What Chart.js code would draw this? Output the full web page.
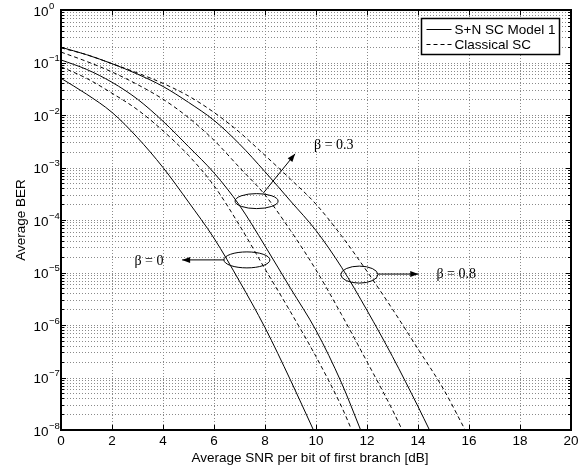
<!DOCTYPE html>
<html>
<head>
<meta charset="utf-8">
<script src="https://cdn.jsdelivr.net/npm/chart.js@4"></script>
<style>
  html, body { margin: 0; padding: 0; background: #fff; }
  canvas { display: block; }
</style>
</head>
<body>
<canvas id="chart" width="585" height="469"></canvas>
<script>
/* ---------- data ---------- */
// S+N SC Model 1 (solid) and Classical SC (dashed), beta = 0 / 0.3 / 0.8
const snrS0 = [0, 1, 2, 3, 4, 5, 6, 7, 8, 9, 9.9];
const berS0 = [5.0e-2, 2.5e-2, 1.12e-2, 3.7e-3, 1.0e-3, 2.2e-4, 4.5e-5, 6.8e-6, 8.9e-7, 8.9e-8, 1e-8];

const snrD0 = [0, 1, 2, 3, 4, 5, 6, 7, 8, 9, 10, 11, 11.4];
const berD0 = [8.3e-2, 5.0e-2, 2.6e-2, 1.26e-2, 5.0e-3, 1.7e-3, 4.5e-4, 7.9e-5, 1.17e-5, 1.78e-6, 2.5e-7, 2.8e-8, 1e-8];

const snrS3 = [0, 1, 2, 3, 4, 5, 6, 7, 8, 9, 10, 11, 11.75];
const berS3 = [1.12e-1, 7.4e-2, 4.2e-2, 2.0e-2, 7.6e-3, 2.5e-3, 7.9e-4, 1.9e-4, 3.2e-5, 5.0e-6, 7.9e-7, 7.9e-8, 1e-8];

const snrD3 = [0, 1, 2, 3, 4, 5, 6, 7, 8, 9, 10, 11, 12, 13, 13.38];
const berD3 = [1.58e-1, 1.05e-1, 6.6e-2, 3.8e-2, 2.0e-2, 8.9e-3, 3.3e-3, 1.0e-3, 3.0e-4, 6.3e-5, 1.12e-5, 1.58e-6, 2.0e-7, 2.4e-8, 1e-8];

const snrS8 = [0, 1, 2, 3, 4, 5, 6, 7, 8, 9, 10, 11, 12, 13, 14, 14.45];
const berS8 = [1.95e-1, 1.41e-1, 9.5e-2, 6.0e-2, 3.5e-2, 1.74e-2, 7.9e-3, 2.8e-3, 8.3e-4, 2.3e-4, 6.3e-5, 1.26e-5, 1.9e-6, 2.5e-7, 2.8e-8, 1e-8];

const snrD8 = [0, 1, 2, 3, 4, 5, 6, 7, 8, 9, 10, 11, 12, 13, 14, 15, 15.85];
const berD8 = [1.9e-1, 1.41e-1, 9.5e-2, 6.3e-2, 4.0e-2, 2.3e-2, 1.12e-2, 4.7e-3, 1.7e-3, 6.0e-4, 2.0e-4, 5.0e-5, 1.05e-5, 2.0e-6, 3.5e-7, 6.0e-8, 1e-8];

const xTicks = [0, 2, 4, 6, 8, 10, 12, 14, 16, 18, 20];
const yExponents = [0, -1, -2, -3, -4, -5, -6, -7, -8];
const legendLabels = ['S+N SC Model 1', 'Classical SC'];
const betaLabels = ['\u03B2 = 0', '\u03B2 = 0.3', '\u03B2 = 0.8'];

const SANS = '"Liberation Sans", Arial, Helvetica, sans-serif';
const SERIF = '"Liberation Serif", "Times New Roman", serif';
const DASH = [4, 3];

function pts(xs, ys) {
  return xs.map((x, i) => ({ x: x, y: ys[i] }));
}

function series(xs, ys, dashed) {
  return {
    data: pts(xs, ys),
    borderColor: '#000',
    borderWidth: 1,
    borderDash: dashed ? DASH : [],
    pointRadius: 0,
    fill: false,
    cubicInterpolationMode: 'monotone'
  };
}

/* ---------- helpers for the matlab-like decorations ---------- */
function arrow(ctx, x1, y1, x2, y2) {
  ctx.beginPath();
  ctx.moveTo(x1, y1);
  ctx.lineTo(x2, y2);
  ctx.stroke();
  const a = Math.atan2(y2 - y1, x2 - x1);
  const len = 8, w = 3;
  ctx.beginPath();
  ctx.moveTo(x2, y2);
  ctx.lineTo(x2 - len * Math.cos(a) + w * Math.sin(a), y2 - len * Math.sin(a) - w * Math.cos(a));
  ctx.lineTo(x2 - len * Math.cos(a) - w * Math.sin(a), y2 - len * Math.sin(a) + w * Math.cos(a));
  ctx.closePath();
  ctx.fill();
}

const matlabAxes = {
  id: 'matlabAxes',
  beforeDatasetsDraw(chart) {
    const { ctx, chartArea: a, scales: { x, y } } = chart;
    ctx.save();
    ctx.strokeStyle = '#8a8a8a';
    ctx.lineWidth = 1;
    ctx.setLineDash([1, 2]);
    // vertical grid
    xTicks.forEach(v => {
      const px = Math.round(x.getPixelForValue(v)) + 0.5;
      ctx.beginPath(); ctx.moveTo(px, a.top); ctx.lineTo(px, a.bottom); ctx.stroke();
    });
    // horizontal grid, major + minor decades
    for (let e = -8; e < 0; e++) {
      for (let k = 1; k <= 9; k++) {
        const py = Math.round(y.getPixelForValue(k * Math.pow(10, e))) + 0.5;
        ctx.beginPath(); ctx.moveTo(a.left, py); ctx.lineTo(a.right, py); ctx.stroke();
      }
    }
    ctx.restore();
  },
  afterDatasetsDraw(chart) {
    const { ctx, chartArea: a, scales: { x, y } } = chart;
    ctx.save();
    ctx.setLineDash([]);
    ctx.strokeStyle = '#000';
    ctx.fillStyle = '#000';

    // tick marks (inward, both sides)
    ctx.lineWidth = 1;
    xTicks.forEach(v => {
      const px = Math.round(x.getPixelForValue(v)) + 0.5;
      ctx.beginPath();
      ctx.moveTo(px, a.bottom); ctx.lineTo(px, a.bottom - 5);
      ctx.moveTo(px, a.top); ctx.lineTo(px, a.top + 5);
      ctx.stroke();
    });
    for (let e = -8; e <= 0; e++) {
      for (let k = 1; k <= 9; k++) {
        if (e === 0 && k > 1) break;
        const py = Math.round(y.getPixelForValue(k * Math.pow(10, e))) + 0.5;
        const len = k === 1 ? 5 : 3;
        ctx.beginPath();
        ctx.moveTo(a.left, py); ctx.lineTo(a.left + len, py);
        ctx.moveTo(a.right, py); ctx.lineTo(a.right - len, py);
        ctx.stroke();
      }
    }

    // frame
    ctx.lineWidth = 2;
    ctx.strokeRect(a.left, a.top, a.right - a.left, a.bottom - a.top);

    // x tick labels
    ctx.font = '13.5px ' + SANS;
    ctx.textAlign = 'center';
    ctx.textBaseline = 'middle';
    xTicks.forEach(v => ctx.fillText(String(v), x.getPixelForValue(v), a.bottom + 11));

    // y tick labels 10^e
    yExponents.forEach(e => {
      const py = y.getPixelForValue(Math.pow(10, e));
      ctx.font = '13.5px ' + SANS;
      ctx.textAlign = 'right';
      ctx.fillText('10', a.left - 12.5, py + 2);
      ctx.font = '9.5px ' + SANS;
      ctx.textAlign = 'left';
      ctx.fillText(e === 0 ? '0' : '\u2212' + Math.abs(e), a.left - 12, py - 4);
    });

    // axis titles
    ctx.font = '13.5px ' + SANS;
    ctx.textAlign = 'center';
    ctx.fillText('Average SNR per bit of first branch [dB]', (a.left + a.right) / 2 - 6, a.bottom + 28);
    ctx.save();
    ctx.translate(21, (a.top + a.bottom) / 2);
    ctx.rotate(-Math.PI / 2);
    ctx.fillText('Average BER', 0, 0);
    ctx.restore();

    // legend
    const lx = 421.5, ly = 18.5, lw = 138, lh = 36;
    ctx.fillStyle = '#fff';
    ctx.fillRect(lx, ly, lw, lh);
    ctx.fillStyle = '#000';
    ctx.lineWidth = 1.5;
    ctx.strokeRect(lx, ly, lw, lh);
    ctx.lineWidth = 1;
    [0, 1].forEach(i => {
      const ry = ly + 11 + i * 15;
      ctx.setLineDash(i === 1 ? DASH : []);
      ctx.beginPath(); ctx.moveTo(lx + 5, ry); ctx.lineTo(lx + 30, ry); ctx.stroke();
      ctx.setLineDash([]);
      ctx.textAlign = 'left';
      ctx.font = '13.5px ' + SANS;
      ctx.fillText(legendLabels[i], lx + 33, ry + 0.5);
    });

    // beta annotations: ellipses, arrows, labels
    ctx.lineWidth = 1;
    const P = (dB, lg) => [x.getPixelForValue(dB), y.getPixelForValue(Math.pow(10, lg))];
    const notes = [
      { c: [7.29, -4.76], rx: 23, ry: 8, from: [6.4, -4.76], to: [4.75, -4.76], txt: [3.45, -4.78] },
      { c: [7.67, -3.64], rx: 21.5, ry: 7.5, from: [7.93, -3.49], to: [9.18, -2.74], txt: [10.7, -2.57] },
      { c: [11.7, -5.04], rx: 18.5, ry: 8.5, from: [12.43, -5.03], to: [14.01, -5.03], txt: [15.5, -5.03] }
    ];
    notes.forEach((n, i) => {
      const [cx, cy] = P(n.c[0], n.c[1]);
      ctx.beginPath();
      ctx.ellipse(cx, cy, n.rx, n.ry, 0, 0, 2 * Math.PI);
      ctx.stroke();
      const [x1, y1] = P(n.from[0], n.from[1]);
      const [x2, y2] = P(n.to[0], n.to[1]);
      arrow(ctx, x1, y1, x2, y2);
      const [tx, ty] = P(n.txt[0], n.txt[1]);
      ctx.font = '14px ' + SERIF;
      ctx.textAlign = 'center';
      ctx.textBaseline = 'middle';
      ctx.fillText(betaLabels[i], tx, ty);
    });

    ctx.restore();
  }
};

/* ---------- chart ---------- */
new Chart(document.getElementById('chart').getContext('2d'), {
  type: 'line',
  data: {
    datasets: [
      series(snrS0, berS0, false),
      series(snrD0, berD0, true),
      series(snrS3, berS3, false),
      series(snrD3, berD3, true),
      series(snrS8, berS8, false),
      series(snrD8, berD8, true)
    ]
  },
  options: {
    responsive: false,
    animation: false,
    devicePixelRatio: 1,
    layout: { padding: { left: 0, right: 14, top: 10, bottom: 0 } },
    plugins: { legend: { display: false }, tooltip: { enabled: false } },
    scales: {
      x: {
        type: 'linear', min: 0, max: 20,
        grid: { display: false }, border: { display: false },
        ticks: { display: false },
        afterFit: s => { s.height = 39; }
      },
      y: {
        type: 'logarithmic', min: 1e-8, max: 1,
        grid: { display: false }, border: { display: false },
        ticks: { display: false },
        afterFit: s => { s.width = 61; }
      }
    }
  },
  plugins: [matlabAxes]
});
</script>
</body>
</html>
